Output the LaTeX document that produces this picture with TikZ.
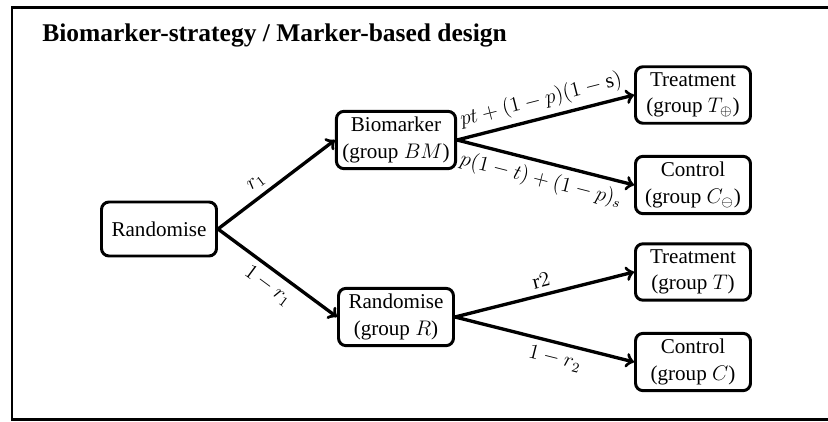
\documentclass[tikz,border=0pt]{standalone}
\usepackage{fontspec}
\setmainfont{Liberation Serif}

\tikzset{
    box/.style = {draw, rounded corners = 0.15cm, line width = 1.7pt,
                  minimum width = 2.3cm, minimum height = 1.08cm, align = center},
    arr/.style = {->, line width = 1.9pt},
}

\begin{document}
\begin{tikzpicture}[font = \fontsize{12pt}{15pt}\selectfont]
            \useasboundingbox (0, 0) rectangle (16.56, 8.42);
            \draw[line width = 1.4pt] (0.24, 0.03) rectangle (16.8, 8.27);
            \node[anchor = base west, inner sep = 0pt, font = \fontsize{14.5pt}{17pt}\selectfont\bfseries] (title)
                at (0.84, 7.58) {Biomarker-strategy / Marker-based design};

            \node[box] (rand)  at (3.18, 3.84)  {Randomise};
            \node[box] (bm)    at (7.92, 5.62)  {Biomarker\\(group $BM$)};
            \node[box] (randR) at (7.92, 2.08)  {Randomise\\(group $R$)};
            \node[box] (tPos)  at (13.86, 6.52) {Treatment\\(group $T_\oplus$)};
            \node[box] (cNeg)  at (13.86, 4.72) {Control\\(group $C_\ominus$)};
            \node[box] (tR)    at (13.86, 2.98) {Treatment\\(group $T$)};
            \node[box] (cR)    at (13.86, 1.18) {Control\\(group $C$)};

            \foreach\a/\b/\side/\p/\txt in {rand/bm/above/0.4/{$r_1$},
                                            rand/randR/below/0.5/{$1-r_1$},
                                            bm/tPos/above/0.5/{$pt+(1-p)(1-\mathrm{s})$},
                                            bm/cNeg/below/0.5/{$p(1-t)+(1-p)_s$},
                                            randR/tR/above/0.5/{$\mathrm{r}2$},
                                            randR/cR/below/0.58/{$1-r_2$}}
                {\draw[arr] (\a.east) -- node[sloped, \side, pos = \p] {\txt} (\b.west);};
        \end{tikzpicture}
\end{document}
